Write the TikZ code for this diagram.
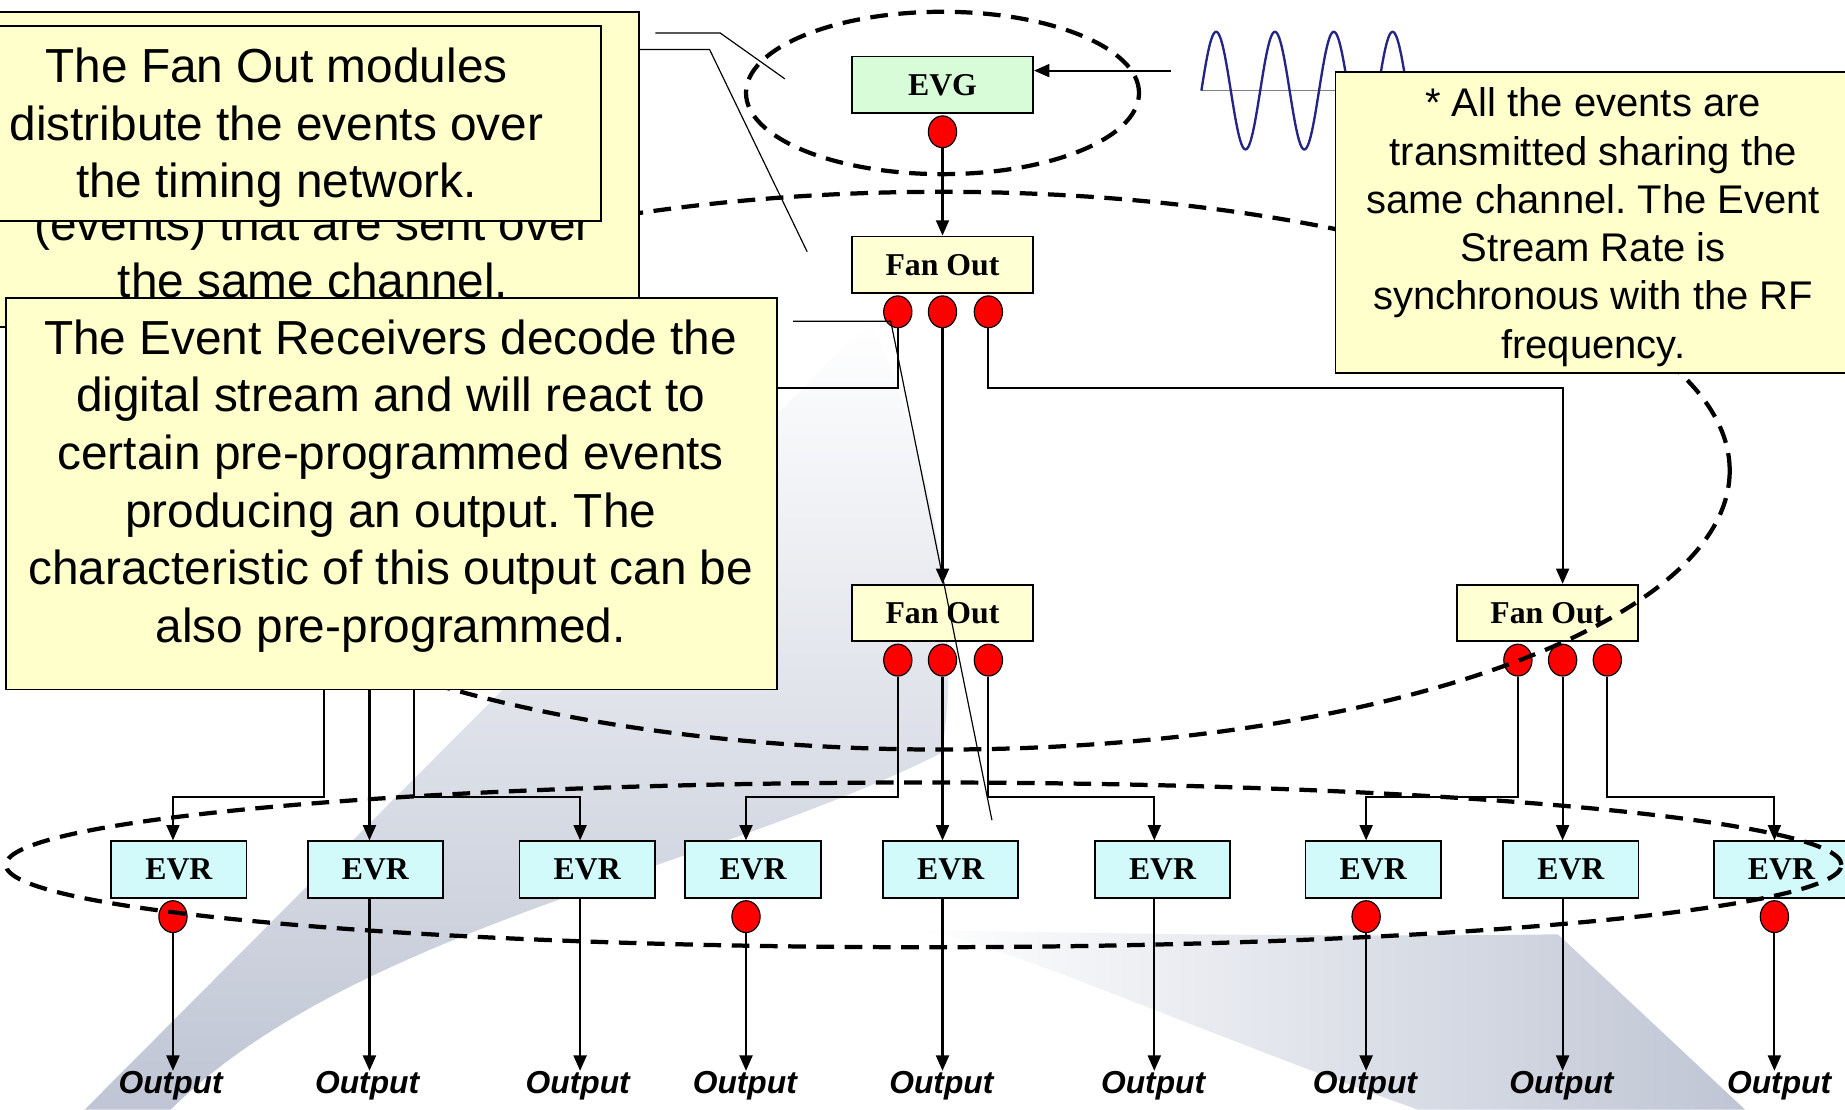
\documentclass[tikz,border=0pt]{standalone}
\usepackage{fontspec}
\setmainfont{Liberation Sans}
\newfontfamily\serifb{Liberation Serif}
\usetikzlibrary{arrows.meta,calc,shapes.geometric}
\definecolor{calloutfill}{HTML}{FFFFCC}
\definecolor{evgfill}{HTML}{D8FCD8}
\definecolor{fofill}{HTML}{FFFFD4}
\definecolor{evrfill}{HTML}{D2FAFA}
\definecolor{wavecol}{HTML}{252585}
\definecolor{bgA}{HTML}{BFC5D4}
\pgfdeclarelayer{bg}
\pgfdeclarelayer{conn}
\pgfsetlayers{bg,conn,main}
\begin{document}
\frenchspacing
\begin{tikzpicture}[x=0.5pt,y=-0.5pt,
  modbox/.style={draw=black, line width=0.8pt, minimum height=24pt, inner sep=0pt,
    font=\serifb\bfseries\fontsize{13.5}{15}\selectfont},
  evgbox/.style={modbox, fill=evgfill, minimum width=77pt},
  fobox/.style={modbox, fill=fofill, minimum width=77pt},
  evrbox/.style={modbox, fill=evrfill, minimum width=57.5pt},
  rdot/.style={ellipse, draw=black, line width=0.5pt, fill=red, minimum width=12pt, minimum height=13.5pt, inner sep=0pt},
  conn/.style={line width=0.9pt},
  arr/.style={conn, -{Triangle[length=6.5pt,width=5.5pt]}},
  ptr/.style={line width=0.5pt},
  dsh/.style={line width=1.8pt, dash pattern=on 7.5pt off 4.5pt},
  callout/.style={draw=black, fill=calloutfill, line width=0.8pt, inner sep=0pt},
  ctext/.style={align=center, inner sep=0pt, font=\fontsize{20.3}{24.5}\selectfont},
  ctextb/.style={align=center, inner sep=0pt, font=\fontsize{17}{20.5}\selectfont},
  outtxt/.style={inner sep=0pt, anchor=north, font=\bfseries\itshape\fontsize{13.5}{15}\selectfont}
]
\useasboundingbox (0,0) rectangle (1568,943);

% background swooshes
\begin{pgfonlayer}{bg}
\shade[shading angle=-45, top color=white, bottom color=bgA]
  (72,943) -- (740,272) .. controls (805,420) and (815,560) .. (800,640)
  .. controls (600,740) and (300,790) .. (145,943) -- cycle;
\shade[left color=white, right color=bgA]
  (778,790) .. controls (1000,795) and (1200,796) .. (1324,794) -- (1483,943) -- (1205,943)
  .. controls (1000,870) and (850,800) .. (778,790) -- cycle;
\end{pgfonlayer}

% columns and levels
\coordinate (c1) at (147,0);
\coordinate (c2) at (314,0);
\coordinate (c3) at (493,0);
\coordinate (c4) at (634,0);
\coordinate (c5) at (801,0);
\coordinate (c6) at (981,0);
\coordinate (c7) at (1161,0);
\coordinate (c8) at (1328,0);
\coordinate (c9) at (1508,0);
\coordinate (lv) at (0,677);
\coordinate (lvt) at (0,330);
\coordinate (hin) at (600,330);
\coordinate (h1) at (275,560);
\coordinate (h2) at (314,560);
\coordinate (h3) at (352,560);
\coordinate (wavein) at (995,60);

% RF wave
\draw[gray, line width=0.4pt] (1021,77) -- (1221,77);
\draw[wavecol, line width=1pt] plot[domain=0:200, samples=240, smooth] ({1021+\x}, {77-50*sin(7.2*\x)});

% modules
\node[evgbox] (evg) at (801,72) {EVG};
\node[rdot] (evgd) at (801,112) {};
\node[fobox] (fo1) at (801,225) {Fan Out};
\node[rdot] (fo1a) at (763,265) {};
\node[rdot] (fo1b) at (801,265) {};
\node[rdot] (fo1c) at (840,265) {};
\node[fobox] (fo2) at (801,521) {Fan Out};
\node[rdot] (fo2a) at (763,561) {};
\node[rdot] (fo2b) at (801,561) {};
\node[rdot] (fo2c) at (840,561) {};
\node[fobox] (fo3) at (1315,521) {Fan Out};
\node[rdot] (fo3a) at (1290,561) {};
\node[rdot] (fo3b) at (1328,561) {};
\node[rdot] (fo3c) at (1366,561) {};

\node[evrbox] (evr1) at (152,739) {EVR};
\node[evrbox] (evr2) at (319,739) {EVR};
\node[evrbox] (evr3) at (499,739) {EVR};
\node[evrbox] (evr4) at (640,739) {EVR};
\node[evrbox] (evr5) at (808,739) {EVR};
\node[evrbox] (evr6) at (988,739) {EVR};
\node[evrbox] (evr7) at (1167,739) {EVR};
\node[evrbox] (evr8) at (1335,739) {EVR};
\node[evrbox] (evr9) at (1514,739) {EVR};
\node[rdot] (d1) at (147,779) {};
\node[rdot] (d4) at (634,779) {};
\node[rdot] (d7) at (1161,779) {};
\node[rdot] (d9) at (1508,779) {};

\node[outtxt] (o1) at (145,910) {Output};
\node[outtxt] (o2) at (312,910) {Output};
\node[outtxt] (o3) at (491,910) {Output};
\node[outtxt] (o4) at (633,910) {Output};
\node[outtxt] (o5) at (800,910) {Output};
\node[outtxt] (o6) at (980,910) {Output};
\node[outtxt] (o7) at (1160,910) {Output};
\node[outtxt] (o8) at (1327,910) {Output};
\node[outtxt] (o9) at (1512,910) {Output};

% connectors
\begin{pgfonlayer}{conn}
\draw[arr] (wavein) -- (evg.east |- wavein);
\draw[arr] (evgd.south) -- (fo1.north);
\draw[arr] (fo1b.south) -- (fo2.north);
\draw[arr] (fo1c.south) -- (fo1c |- lvt) -| (fo3b |- fo3.north);
\draw[conn] (fo1a.south) |- (hin);
\draw[arr] (h1) -- (h1 |- lv) -| (c1 |- evr1.north);
\draw[arr] (h2) -- (c2 |- evr2.north);
\draw[arr] (h3) -- (h3 |- lv) -| (c3 |- evr3.north);
\draw[arr] (fo2a.south) -- (fo2a |- lv) -| (c4 |- evr4.north);
\draw[arr] (fo2b.south) -- (c5 |- evr5.north);
\draw[arr] (fo2c.south) -- (fo2c |- lv) -| (c6 |- evr6.north);
\draw[arr] (fo3a.south) -- (fo3a |- lv) -| (c7 |- evr7.north);
\draw[arr] (fo3b.south) -- (c8 |- evr8.north);
\draw[arr] (fo3c.south) -- (fo3c |- lv) -| (c9 |- evr9.north);
\draw[arr] (d1.south) -- (c1 |- o1.north);
\draw[arr] (c2 |- evr2.south) -- (c2 |- o2.north);
\draw[arr] (c3 |- evr3.south) -- (c3 |- o3.north);
\draw[arr] (d4.south) -- (c4 |- o4.north);
\draw[arr] (c5 |- evr5.south) -- (c5 |- o5.north);
\draw[arr] (c6 |- evr6.south) -- (c6 |- o6.north);
\draw[arr] (d7.south) -- (c7 |- o7.north);
\draw[arr] (c8 |- evr8.south) -- (c8 |- o8.north);
\draw[arr] (d9.south) -- (c9 |- o9.north);
\end{pgfonlayer}

% dashed groupings
\draw[dsh] (801,79) ellipse [x radius=83.5pt, y radius=34.5pt];
\draw[dsh] (800,400) ellipse [x radius=335pt, y radius=118.5pt];
\draw[dsh] (785,735) ellipse [x radius=390pt, y radius=35pt];

% callout pointers
\coordinate (p1a) at (557,28);
\coordinate (p1b) at (612,28);
\coordinate (p1c) at (667,67);
\coordinate (p3a) at (525,42);
\coordinate (p3b) at (603,42);
\coordinate (p3c) at (686,214);
\coordinate (p2a) at (674,273);
\coordinate (p2b) at (757,273);
\coordinate (p2c) at (843,697);
\draw[ptr] (p1a) -- (p1b) -- (p1c);
\draw[ptr] (p3a) -- (p3b) -- (p3c);
\draw[ptr] (p2a) -- (p2b) -- (p2c);

% callouts
\node[callout, minimum width=277pt, minimum height=134pt] (cb1) at (266,144) {};
\node[ctext] (ct1) at (266,214) {(events) that are sent over\\the same channel.};
\node[callout, minimum width=276pt, minimum height=83pt] (cb3) at (235,105) {};
\node[ctext] (ct3) at (235,108.5) {The Fan Out modules\\distribute the events over\\the timing network.};
\node[callout, minimum width=327.5pt, minimum height=166.5pt] (cb2) at (332.5,419.5) {};
\node[ctext] (ct2) at (332,413) {The Event Receivers decode the\\digital stream and will react to\\certain pre-programmed events\\producing an output. The\\characteristic of this output can be\\also pre-programmed.};
\node[callout, minimum width=219pt, minimum height=128pt] (cb4) at (1354,189) {};
\node[ctextb] (ct4) at (1354,193) {* All the events are\\transmitted sharing the\\same channel. The Event\\Stream Rate is\\synchronous with the RF\\frequency.};
\end{tikzpicture}
\end{document}
